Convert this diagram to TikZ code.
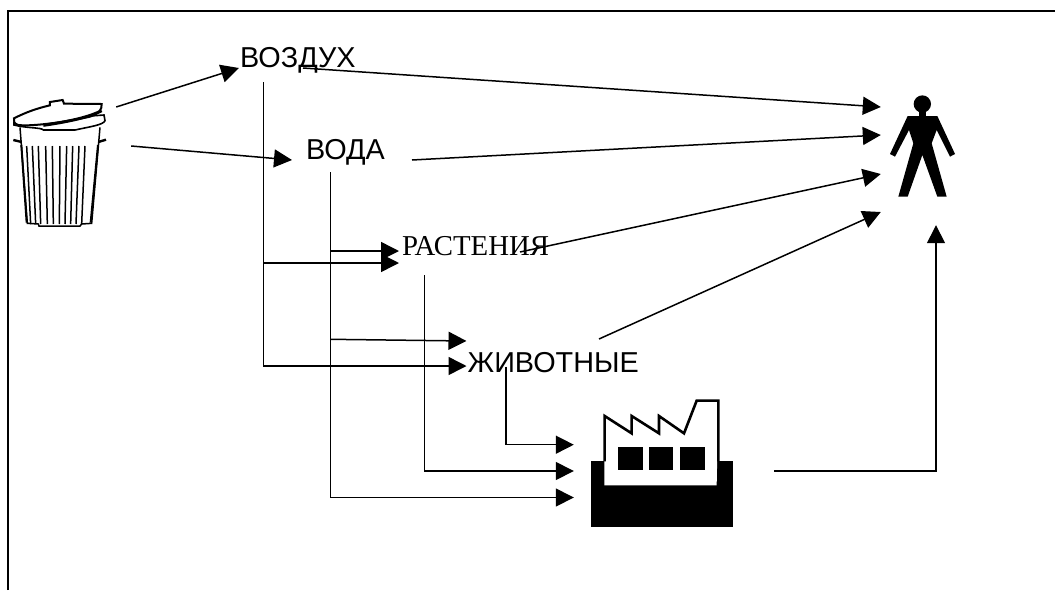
\documentclass[tikz,border=0pt]{standalone}
\usepackage{fontspec}
\setmainfont{Liberation Sans}
\newfontfamily\plantfont{Liberation Serif}
\usetikzlibrary{arrows.meta}

\begin{document}
\begin{tikzpicture}[
  x=1pt,y=-1pt,
  label/.style={inner sep=0pt,anchor=base west,font=\fontsize{28.8}{30}\selectfont},
  icon/.style={inner sep=0pt,minimum width=#1},
  arr/.style={-{Triangle[length=18pt,width=18pt]},line width=1.5pt},
  rib/.style={line width=1.5pt}
]
\useasboundingbox (0,0) rectangle (1055,590);
% frame
\draw[line width=2.2pt] (8,590) -- (8,11) -- (1055,11);

% labels
\node[label] (air) at (240,67) {ВОЗДУХ};
\node[label] (water) at (306,159) {ВОДА};
\node[label,font=\plantfont\fontsize{28.8}{30}\selectfont] (plants) at (402,255) {РАСТЕНИЯ};
\node[label] (animals) at (467.5,372) {ЖИВОТНЫЕ};
\node[icon=94pt,minimum height=128pt] (bin) at (60,164) {};
\node[icon=66pt,minimum height=102pt] (person) at (922,146) {};
\node[icon=142pt,minimum height=127pt] (factory) at (662,463.5) {};

% trash bin
\begin{scope}[shift={(0,90)},scale=1/3]
\draw[line width=1.5pt] (60,112) -- (82,400) -- (115,402) -- (117,408) -- (240,408) -- (245,402) -- (275,400) -- (300,112);
\foreach \a/\b in {80/92,97/107,115/122,137/142,157/160,180/178,200/195,218/212,237/228,255/245}
  \draw[rib] (\a,168) -- (\b,402);
\draw[line width=2pt] (64,165) -- (80,398);
\draw[line width=2pt] (294,165) -- (272,398);
\draw[line width=2.4pt] (40,150) -- (65,156);
\draw[line width=2.4pt] (295,156) -- (318,149);
% rim and lid
\draw[fill=white,line width=1.6pt] (42,95) -- (42,105) .. controls (80,115) and (125,112) .. (130,120) -- (225,120) .. controls (270,110) and (310,105) .. (315,92) -- (312,75) -- (42,95);
\draw[fill=white,line width=2pt] (42,85) .. controls (75,68) and (110,55) .. (150,46) -- (150,36) -- (188,30) -- (192,41) -- (305,42) .. controls (305,60) and (300,68) .. (270,80) .. controls (200,95) and (100,110) .. (55,105) .. controls (42,102) and (40,92) .. (42,85) -- cycle;
\draw[line width=3pt] (130,106) .. controls (190,97) and (260,85) .. (305,62);
\end{scope}

% person
\begin{scope}[shift={(860,80)},scale=1/3]
\fill (187,72) circle[radius=26];
\fill (177,90) rectangle (197,110);
\fill (143,108) -- (232,108) -- (285,222) -- (270,230) -- (230,150) -- (215,190) -- (260,350) -- (232,350) -- (187,225) -- (143,350) -- (115,350) -- (160,190) -- (147,150) -- (105,230) -- (90,222) -- cycle;
\end{scope}

% factory
\begin{scope}[shift={(560,380)},scale=1/3]
\fill (93,244) rectangle (518,442);
\fill[white] (133,316) -- (133,108) -- (215,160) -- (215,108) -- (297,160) -- (297,108) -- (372,160) -- (410,62) -- (475,62) -- (470,316) -- cycle;
\draw[line width=2.6pt] (134,244) -- (134,108) -- (215,160) -- (215,108) -- (297,160) -- (297,108) -- (372,160) -- (410,62) -- (475,62) -- (475,244);
\foreach \a/\b in {175/248,267/340,360/434}
  \fill (\a,202) rectangle (\b,270);
\end{scope}

% connectors
\draw[arr] ([shift={(9,-57)}]bin.east) -- ([shift={(-1,1)}]air.base west);
\draw[arr] ([shift={(24,-18)}]bin.east) -- ([shift={(-14,1)}]water.base west);
\draw[arr] ([shift={(63,1)}]air.base west) -- ([shift={(-8,-39)}]person.west);
\draw[arr] ([shift={(106,1)}]water.base west) -- ([shift={(-8,-11)}]person.west);
\draw[arr] ([shift={(118,-3)}]plants.base west) -- ([shift={(-8,28)}]person.west);
\draw[arr] ([shift={(131.5,-33)}]animals.base west) -- ([shift={(-8,66)}]person.west);
\draw[arr] ([shift={(41,7.5)}]factory.east) -| ([shift={(14,28)}]person.south);
\draw[arr] ([shift={(23.3,15)}]air.base west) |- ([shift={(-3,8)}]plants.base west);
\draw[arr] ([shift={(23.3,15)}]air.base west) |- ([shift={(-1,-6)}]animals.base west);
\draw[arr] ([shift={(24.7,13)}]water.base west) |- ([shift={(-3,-4)}]plants.base west);
\coordinate (waterbranch) at (330.7,339.3);
\draw[arr] (waterbranch) -- ([shift={(-1,-31)}]animals.base west);
\draw[arr] ([shift={(24.7,13)}]water.base west) |- ([shift={(-17,34)}]factory.west);
\draw[arr] ([shift={(22.3,20)}]plants.base west) |- ([shift={(-17,7.5)}]factory.west);
\draw[arr] ([shift={(38.5,-5.3)}]animals.base west) |- ([shift={(-17,-18.8)}]factory.west);
\end{tikzpicture}
\end{document}
